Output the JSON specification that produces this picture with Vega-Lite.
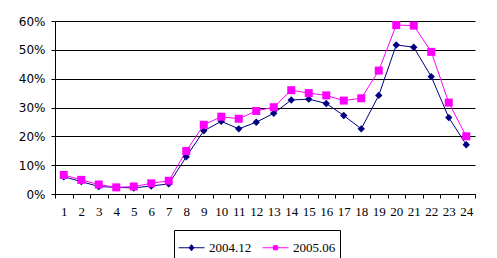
{
  "$schema": "https://vega.github.io/schema/vega-lite/v6.json",
  "autosize": "none",
  "width": 420,
  "height": 173,
  "padding": {"left": 55, "top": 21, "right": 22, "bottom": 64},
  "background": "white",
  "config": {
    "view": {"stroke": null},
    "axis": {"domainColor": "black", "tickColor": "black", "gridColor": "black", "gridOpacity": 1, "labelColor": "black"}
  },
  "data": {
    "values": [
      {"hour": 1, "series": "2004.12", "v": 0.060}, {"hour": 2, "series": "2004.12", "v": 0.043},
      {"hour": 3, "series": "2004.12", "v": 0.026}, {"hour": 4, "series": "2004.12", "v": 0.023},
      {"hour": 5, "series": "2004.12", "v": 0.021}, {"hour": 6, "series": "2004.12", "v": 0.028},
      {"hour": 7, "series": "2004.12", "v": 0.035}, {"hour": 8, "series": "2004.12", "v": 0.129},
      {"hour": 9, "series": "2004.12", "v": 0.219}, {"hour": 10, "series": "2004.12", "v": 0.252},
      {"hour": 11, "series": "2004.12", "v": 0.226}, {"hour": 12, "series": "2004.12", "v": 0.249},
      {"hour": 13, "series": "2004.12", "v": 0.280}, {"hour": 14, "series": "2004.12", "v": 0.326},
      {"hour": 15, "series": "2004.12", "v": 0.329}, {"hour": 16, "series": "2004.12", "v": 0.314},
      {"hour": 17, "series": "2004.12", "v": 0.272}, {"hour": 18, "series": "2004.12", "v": 0.226},
      {"hour": 19, "series": "2004.12", "v": 0.342}, {"hour": 20, "series": "2004.12", "v": 0.517},
      {"hour": 21, "series": "2004.12", "v": 0.509}, {"hour": 22, "series": "2004.12", "v": 0.407},
      {"hour": 23, "series": "2004.12", "v": 0.265}, {"hour": 24, "series": "2004.12", "v": 0.171},
      {"hour": 1, "series": "2005.06", "v": 0.066}, {"hour": 2, "series": "2005.06", "v": 0.049},
      {"hour": 3, "series": "2005.06", "v": 0.033}, {"hour": 4, "series": "2005.06", "v": 0.023},
      {"hour": 5, "series": "2005.06", "v": 0.026}, {"hour": 6, "series": "2005.06", "v": 0.037},
      {"hour": 7, "series": "2005.06", "v": 0.046}, {"hour": 8, "series": "2005.06", "v": 0.149},
      {"hour": 9, "series": "2005.06", "v": 0.240}, {"hour": 10, "series": "2005.06", "v": 0.268},
      {"hour": 11, "series": "2005.06", "v": 0.261}, {"hour": 12, "series": "2005.06", "v": 0.288},
      {"hour": 13, "series": "2005.06", "v": 0.301}, {"hour": 14, "series": "2005.06", "v": 0.360},
      {"hour": 15, "series": "2005.06", "v": 0.350}, {"hour": 16, "series": "2005.06", "v": 0.342},
      {"hour": 17, "series": "2005.06", "v": 0.324}, {"hour": 18, "series": "2005.06", "v": 0.332},
      {"hour": 19, "series": "2005.06", "v": 0.428}, {"hour": 20, "series": "2005.06", "v": 0.586},
      {"hour": 21, "series": "2005.06", "v": 0.584}, {"hour": 22, "series": "2005.06", "v": 0.493},
      {"hour": 23, "series": "2005.06", "v": 0.317}, {"hour": 24, "series": "2005.06", "v": 0.200}
    ]
  },
  "encoding": {
    "x": {
      "field": "hour", "type": "ordinal", "bandPosition": 0.5,
      "scale": {"type": "band", "paddingInner": 0, "paddingOuter": 0},
      "axis": {
        "title": null, "labelAngle": 0, "tickBand": "extent", "tickSize": 4, "labelPadding": 7,
        "labelFont": "Liberation Serif", "labelFontSize": 13, "grid": false
      }
    },
    "y": {
      "field": "v", "type": "quantitative",
      "scale": {"domain": [0, 0.6], "nice": false},
      "axis": {
        "title": null, "format": ".0%", "values": [0, 0.1, 0.2, 0.3, 0.4, 0.5, 0.6],
        "tickSize": 4, "labelPadding": 6, "labelFont": "DejaVu Sans", "labelFontSize": 12,
        "grid": true, "gridWidth": 1
      }
    },
    "color": {
      "field": "series", "type": "nominal",
      "scale": {"domain": ["2004.12", "2005.06"], "range": ["#000080", "#FF00FF"]},
      "legend": {
        "title": null, "orient": "none", "legendX": 119, "legendY": 209, "direction": "horizontal",
        "strokeColor": "black", "padding": 4, "symbolSize": 676, "symbolStrokeWidth": 1,
        "labelFont": "Liberation Serif", "labelFontSize": 13, "labelColor": "black",
        "labelOffset": 4, "columnPadding": 8,
        "encode": {
          "labels": {
            "update": {
              "fontSize": {"value": 13},
              "font": {"value": "Liberation Serif"},
              "fill": {"value": "black"}
            }
          },
          "symbols": {
            "update": {
              "shape": [
                {"test": "datum.value === '2004.12'", "value": "M-1,0H1M0,-0.24L0.18,0L0,0.24L-0.18,0Z"},
                {"value": "M-1,0H1M-0.16,-0.16H0.16V0.16H-0.16Z"}
              ],
              "fill": [
                {"test": "datum.value === '2004.12'", "value": "#000080"},
                {"value": "#FF00FF"}
              ],
              "stroke": [
                {"test": "datum.value === '2004.12'", "value": "#000080"},
                {"value": "#FF00FF"}
              ],
              "size": {"value": 676},
              "strokeWidth": {"value": 1},
              "opacity": {"value": 1},
              "fillOpacity": {"value": 1}
            }
          }
        }
      }
    }
  },
  "layer": [
    {"mark": {"type": "line", "strokeWidth": 1}},
    {
      "transform": [{"filter": "datum.series === '2004.12'"}],
      "mark": {"type": "point", "filled": true, "opacity": 1, "shape": "diamond", "size": 55}
    },
    {
      "transform": [{"filter": "datum.series === '2005.06'"}],
      "mark": {"type": "point", "filled": true, "opacity": 1, "shape": "square", "size": 64}
    }
  ]
}
